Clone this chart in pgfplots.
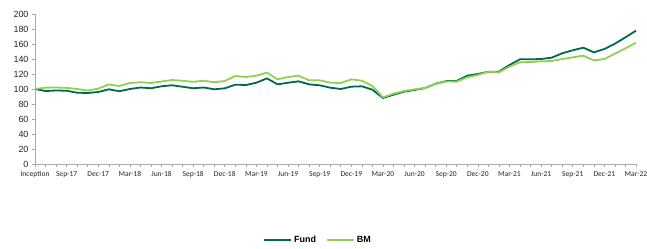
\documentclass[border=0pt]{standalone}
\usepackage{fontspec}
\setmainfont{Liberation Sans}
\newfontfamily\calibri{Carlito}
\usepackage{pgfplots}
\usepackage{pgfplotstable}
\pgfplotsset{compat=1.18}
\definecolor{fund}{RGB}{0,106,78}
\definecolor{bm}{RGB}{146,208,80}
\definecolor{axgray}{RGB}{170,170,170}

\pgfplotstableread{
i v
0 100
1 97.3
2 98
3 97.7
4 95
5 94.7
6 96
7 99.6
8 97
9 100
10 102
11 101
12 103.6
13 105
14 103
15 101
16 102
17 99.6
18 100.9
19 105.8
20 105.3
21 108.4
22 114.2
23 106.2
24 108.4
25 110.2
26 106.2
27 104.9
28 101.8
29 100
30 103.1
31 103.6
32 99.1
33 88
34 92.4
35 96.4
36 98.7
37 101.3
38 107
39 110.5
40 110.7
41 117.8
42 120
43 123.1
44 123.1
45 132
46 139.6
47 139.6
48 140
49 141.8
50 147.6
51 151.6
52 155.1
53 148.9
54 153.3
55 160.4
56 168.9
57 177.8
}\fund

\pgfplotstableread{
i v
0 100
1 101.8
2 102
3 101.5
4 100
5 98
6 100.5
7 106
8 104
9 108
10 109
11 108
12 110
13 112
14 111
15 109.6
16 111
17 109
18 110.7
19 117.3
20 116
21 117.8
22 121.8
23 112.9
24 116
25 117.8
26 111.6
27 111.6
28 108.4
29 108
30 112.9
31 111.1
32 104
33 88.9
34 93.8
35 97.3
36 99.6
37 101.3
38 106.8
39 110
40 109.8
41 115.6
42 118.7
43 123.1
44 122.2
45 129.8
46 135.6
47 136
48 136.9
49 137.3
50 140
51 142.2
52 144.4
53 138.2
54 140
55 147.1
56 154.2
57 161.8
}\bm

\begin{document}
\begin{tikzpicture}
\useasboundingbox (0,0) rectangle (647bp,249bp);
\begin{axis}[
  at={(35bp,85bp)}, anchor=south west,
  scale only axis, width=601bp, height=150bp,
  xmin=0, xmax=57, ymin=0, ymax=200,
  ytick={0,20,...,200},
  xtick={0,3,...,57},
  xticklabels={Inception,Sep-17,Dec-17,Mar-18,Jun-18,Sep-18,Dec-18,Mar-19,Jun-19,Sep-19,Dec-19,Mar-20,Jun-20,Sep-20,Dec-20,Mar-21,Jun-21,Sep-21,Dec-21,Mar-22},
  minor xtick={0,...,57},
  axis x line*=bottom, axis y line*=left,
  axis line style={axgray,-, line width=0.6pt},
  tick style={axgray, line width=0.6pt},
  tick align=outside,
  major tick length=3bp, minor tick length=3bp,
  /pgf/number format/assume math mode=true,
  yticklabel style={font=\fontsize{9}{10}\selectfont, text=black!85},
  xticklabel style={font=\calibri\fontsize{7.6}{8}\selectfont, text=black!85, yshift=-1bp},
  legend style={at={(0.471,-0.507)}, anchor=center, draw=none, fill=none,
    font=\bfseries\fontsize{9}{10}\selectfont, legend columns=2,
    /tikz/every even column/.append style={column sep=8bp}},
  legend image code/.code={\draw[#1] (0bp,0bp) -- (27bp,0bp);},
  clip=false,
]
\addplot[fund, line width=1.8bp, line join=round] table[x=i,y=v]{\fund};
\addlegendentry{Fund}
\addplot[bm, line width=1.8bp, line join=round] table[x=i,y=v]{\bm};
\addlegendentry{BM}
\end{axis}
\end{tikzpicture}
\end{document}
